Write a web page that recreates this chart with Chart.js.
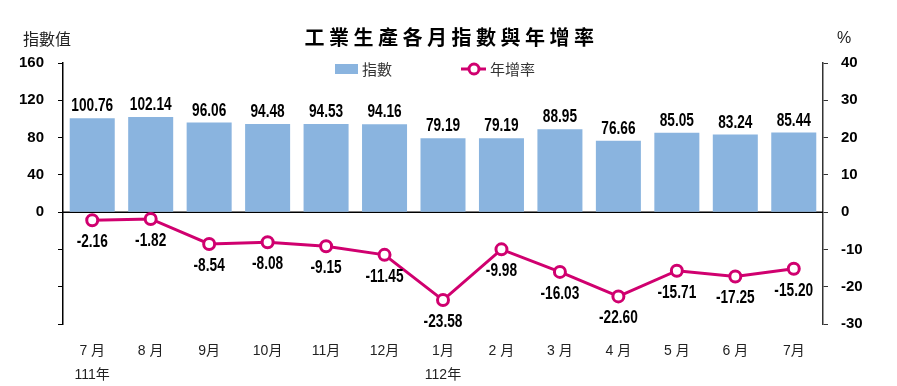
<!DOCTYPE html>
<html><head><meta charset="utf-8">
<script src="https://cdn.jsdelivr.net/npm/chart.js@4"></script>
<style>
html,body{margin:0;padding:0;background:#fff;}
#wrap{position:relative;width:897px;height:386px;}
canvas{position:absolute;left:0;top:0;}
.t{position:absolute;white-space:nowrap;color:#000;}
#title{left:3px;width:897px;top:23px;text-align:center;font:bold 20px "Noto Sans CJK TC",sans-serif;letter-spacing:4.5px;line-height:28px;}
#yl{left:23px;top:28px;font:16px "Noto Sans CJK TC",sans-serif;line-height:20px;color:#222;}
#yr{left:837px;top:28px;font:16px "Liberation Sans",Arial,sans-serif;line-height:20px;color:#222;}
</style></head>
<body><div id="wrap">
<canvas id="c" width="897" height="386"></canvas>
<div class="t" id="title">工業生產各月指數與年增率</div>
<div class="t" id="yl">指數值</div>
<div class="t" id="yr">%</div>
</div>
<script>
const months = [["7 月","111年"],"8 月","9月","10月","11月","12月",["1月","112年"],"2 月","3 月","4 月","5 月","6 月","7月"];
const indexValues = [100.76,102.14,96.06,94.48,94.53,94.16,79.19,79.19,88.95,76.66,85.05,83.24,85.44];
const growthValues = [-2.16,-1.82,-8.54,-8.08,-9.15,-11.45,-23.58,-9.98,-16.03,-22.60,-15.71,-17.25,-15.20];
const leftTicks = [-120,-80,-40,0,40,80,120,160];
const rightTicks = [-30,-20,-10,0,10,20,30,40];

const BAR = '#8AB4DF', LINE = '#D0006F';
const numFont = 'bold 19px "Liberation Sans",Arial,sans-serif';

function narrowText(ctx, txt, x, y){
  ctx.save();
  ctx.translate(x, y);
  ctx.scale(0.72, 1);
  ctx.fillText(txt, 0, 0);
  ctx.restore();
}

const labelsPlugin = {
  id:'labels',
  afterDatasetsDraw(chart){
    const ctx = chart.ctx;
    ctx.save();
    ctx.font = numFont;
    ctx.fillStyle = '#000';
    ctx.textAlign = 'center';
    ctx.textBaseline = 'alphabetic';
    chart.getDatasetMeta(0).data.forEach((el,i)=>{
      narrowText(ctx, indexValues[i].toFixed(2), el.x, el.y - 7);
    });
    chart.getDatasetMeta(1).data.forEach((el,i)=>{
      narrowText(ctx, growthValues[i].toFixed(2), el.x, el.y + 27);
    });
    ctx.restore();
  },
  beforeDatasetsDraw(chart){
    const ctx = chart.ctx, a = chart.chartArea;
    const y0 = chart.scales.y.getPixelForValue(0);
    ctx.save();
    ctx.strokeStyle = '#000'; ctx.lineWidth = 1.5;
    ctx.beginPath(); ctx.moveTo(a.left, y0); ctx.lineTo(a.right, y0); ctx.stroke();
    ctx.restore();
  },
  afterDraw(chart){
    const ctx = chart.ctx;
    ctx.save();
    ctx.fillStyle = BAR;
    ctx.fillRect(335, 64, 23, 10);
    ctx.font = '15px "Noto Sans CJK TC",sans-serif';
    ctx.fillStyle = '#333';
    ctx.textBaseline = 'middle'; ctx.textAlign='left';
    ctx.fillText(chart.data.datasets[0].label, 362, 69);
    ctx.strokeStyle = LINE; ctx.lineWidth = 3;
    ctx.beginPath(); ctx.moveTo(461,69); ctx.lineTo(486,69); ctx.stroke();
    ctx.beginPath(); ctx.arc(474,69,5,0,Math.PI*2); ctx.fillStyle='#fff'; ctx.fill(); ctx.stroke();
    ctx.fillStyle = '#333';
    ctx.fillText(chart.data.datasets[1].label, 490, 69);
    ctx.restore();
  }
};

new Chart(document.getElementById('c'), {
  data:{
    labels: months,
    datasets:[
      {type:'bar', label:'指數', data:indexValues, backgroundColor:BAR, yAxisID:'y',
       barPercentage:0.77, categoryPercentage:1, order:2},
      {type:'line', label:'年增率', data:growthValues, yAxisID:'y1', borderColor:LINE, borderWidth:3,
       pointRadius:5.5, pointBorderWidth:3, pointBackgroundColor:'#fff', pointBorderColor:LINE,
       tension:0, order:1}
    ]
  },
  options:{
    responsive:false, animation:false, devicePixelRatio:1,
    layout:{padding:{top:63,left:0,right:0,bottom:0}},
    plugins:{legend:{display:false}, tooltip:{enabled:false}, title:{display:false}},
    scales:{
      x:{
        grid:{display:false}, border:{display:false},
        ticks:{color:'#222', font:{family:'"Liberation Sans","Noto Sans CJK TC",sans-serif', size:14, lineHeight:1.72}, padding:7, maxRotation:0, autoSkip:false},
        afterFit(s){ s.height = 62; }
      },
      y:{
        position:'left', min:-120, max:160,
        afterBuildTicks(s){ s.ticks = leftTicks.map(v=>({value:v})); },
        grid:{drawOnChartArea:false, color:'#000', tickLength:5, tickWidth:1},
        border:{display:true, color:'#000', width:1.5},
        ticks:{color:'#000', padding:14, font:{family:'"Liberation Sans",Arial,sans-serif', size:15, weight:'bold'},
          callback:(v)=> v>=0 ? String(v) : ''},
        afterFit(s){ s.width = 63; }
      },
      y1:{
        position:'right', min:-30, max:40,
        afterBuildTicks(s){ s.ticks = rightTicks.map(v=>({value:v})); },
        grid:{drawOnChartArea:false, color:'#333', tickLength:5},
        border:{display:true, color:'#333', width:1.5},
        ticks:{color:'#000', padding:13, font:{family:'"Liberation Sans",Arial,sans-serif', size:15, weight:'bold'}},
        afterFit(s){ s.width = 74; }
      }
    }
  },
  plugins:[labelsPlugin]
});
</script>
</body></html>
